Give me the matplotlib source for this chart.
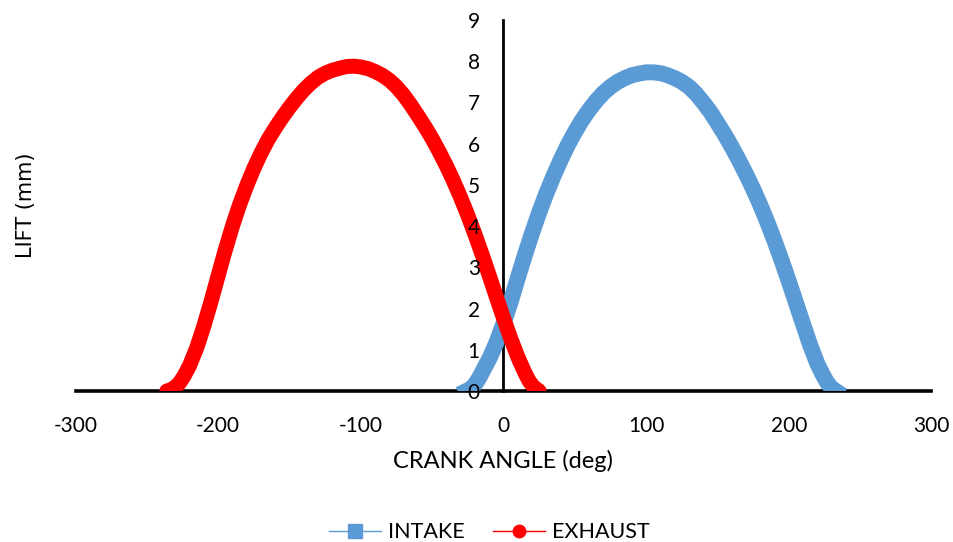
import matplotlib
matplotlib.use("Agg")
import matplotlib.pyplot as plt
from matplotlib.lines import Line2D

# valve lift (crank angle in deg, lift in mm)
exhaust_angle = [-236, -233, -230, -227, -224, -220, -215, -210, -205, -200, -195, -190,
                 -185, -180, -175, -170, -165, -160, -155, -150, -145, -140, -135, -130,
                 -125, -120, -115, -110, -105, -100, -95, -90, -85, -80, -75, -70, -65,
                 -60, -55, -50, -45, -40, -35, -30, -25, -20, -15, -10, -5, 0, 5, 10,
                 15, 18, 21, 25]
exhaust_lift = [0.00, 0.03, 0.10, 0.20, 0.36, 0.62, 1.05, 1.58, 2.17, 2.80, 3.42, 4.00,
                4.52, 4.98, 5.40, 5.77, 6.10, 6.38, 6.64, 6.88, 7.10, 7.30, 7.47, 7.61,
                7.71, 7.78, 7.83, 7.87, 7.88, 7.86, 7.82, 7.75, 7.66, 7.54, 7.38, 7.18, 6.94,
                6.68, 6.41, 6.12, 5.80, 5.46, 5.09, 4.69, 4.26, 3.80, 3.31, 2.80, 2.28, 1.77,
                1.28, 0.83, 0.44, 0.24, 0.10, 0.00]

intake_angle = [-26, -23, -20, -17, -14, -10, -5, 0, 5, 10, 15, 20, 25, 30, 35, 40, 45,
                50, 55, 60, 65, 70, 75, 80, 85, 90, 95, 100, 105, 110, 115, 120, 125, 130,
                135, 140, 145, 150, 155, 160, 165, 170, 175, 180, 185, 190, 195, 200, 205,
                210, 215, 220, 224, 227, 230, 233]
intake_lift = [0.00, 0.05, 0.16, 0.32, 0.52, 0.78, 1.17, 1.64, 2.16, 2.74, 3.30, 3.83, 4.33,
               4.79, 5.21, 5.60, 5.96, 6.28, 6.57, 6.82, 7.04, 7.23, 7.38, 7.50, 7.59, 7.66,
               7.70, 7.73, 7.73, 7.71, 7.66, 7.59, 7.50, 7.38, 7.21, 7.00, 6.77, 6.50, 6.22,
               5.92, 5.60, 5.26, 4.90, 4.51, 4.09, 3.64, 3.16, 2.66, 2.14, 1.62, 1.11, 0.66,
               0.38, 0.20, 0.07, 0.00]

x_ticks = [-300, -200, -100, 0, 100, 200, 300]
y_ticks = list(range(0, 10))

BLUE = "#5B9BD5"
RED = "#FF0000"

plt.rcParams['font.family'] = ['Lato', 'DejaVu Sans']
plt.rcParams['axes.unicode_minus'] = False

fig = plt.figure(figsize=(9.54, 5.42), dpi=100)
ax = fig.add_axes([75.5 / 954, 1 - 391 / 542, 856 / 954, 371 / 542])

ax.plot(intake_angle, intake_lift, color=BLUE, lw=11.5,
        solid_capstyle='projecting', solid_joinstyle='round', zorder=2)
ax.plot(exhaust_angle, exhaust_lift, color=RED, lw=10.8,
        solid_capstyle='round', solid_joinstyle='round', zorder=2.1)

ax.set_xlim(-300, 300)
ax.set_ylim(0, 9)
ax.set_xticks(x_ticks)
ax.set_yticks(y_ticks)

for s in ['top', 'right']:
    ax.spines[s].set_visible(False)
ax.spines['left'].set_position(('data', 0))
ax.spines['bottom'].set_position(('data', 0))
ax.spines['left'].set_linewidth(2.0)
ax.spines['bottom'].set_linewidth(2.6)
ax.spines['left'].set_zorder(1)
ax.spines['bottom'].set_zorder(1)
ax.set_axisbelow(False)

ax.tick_params(axis='both', length=0, labelsize=15, colors='black')
ax.tick_params(axis='x', pad=18)
ax.tick_params(axis='y', pad=17)

ax.set_xlabel('CRANK ANGLE (deg)', fontsize=17)
ax.xaxis.set_label_coords(0.5, -0.16)
ax.set_ylabel('LIFT (mm)', fontsize=15, family='DejaVu Sans', va='center')
ax.yaxis.set_label_coords(-0.058, 0.5)

handles = [
    Line2D([], [], color=BLUE, lw=1, marker='s', markersize=10, label='INTAKE'),
    Line2D([], [], color=RED, lw=1, marker='o', markersize=9, label='EXHAUST'),
]
fig.legend(handles=handles, loc='center', bbox_to_anchor=(0.513, 0.018), ncol=2,
           frameon=False, fontsize=15.5, handlelength=2.4, handletextpad=0.35,
           columnspacing=1.3)

fig.savefig('out.png', dpi=100)
